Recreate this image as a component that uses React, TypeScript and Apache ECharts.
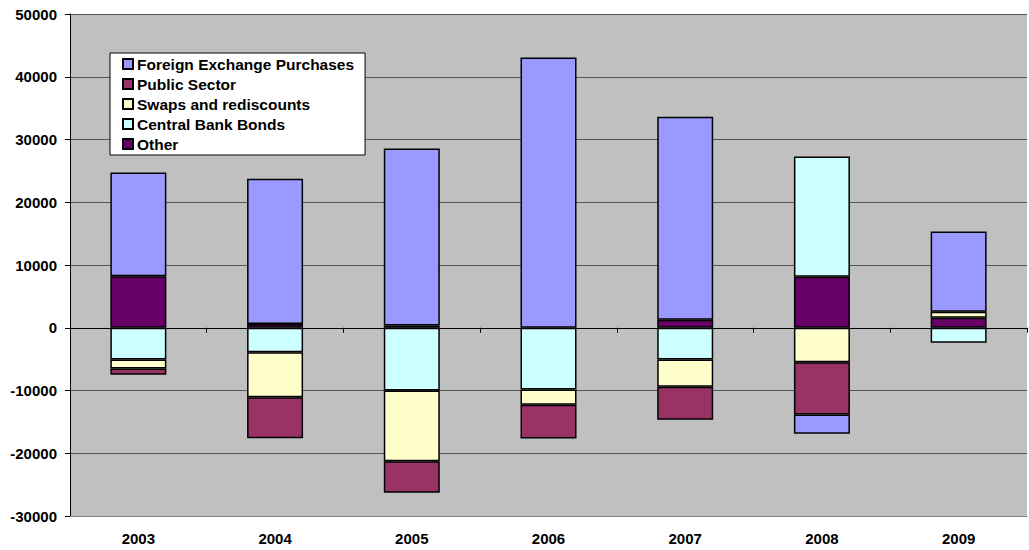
import React, { useEffect, useRef } from "react";
import * as echarts from "echarts";

const years = ["2003", "2004", "2005", "2006", "2007", "2008", "2009"];
const foreignExchange = [16550, 23150, 28200, 43080, 32360, -3070, 12800];
const publicSector = [-1000, -6530, -5040, -5370, -5260, -8340, null];
const swaps = [-1430, -7170, -11260, -2440, -4350, -5480, 960];
const centralBankBonds = [-5050, -3890, -10000, -9830, -5050, 19170, -2390];
const other = [8200, 600, 350, null, 1270, 8130, 1590];

const FONT = "'Liberation Sans', Arial, sans-serif";

export default function App() {
  const ref = useRef<HTMLDivElement>(null);
  useEffect(() => {
    if (!ref.current) return;
    const chart = echarts.init(ref.current, undefined, { renderer: "svg" });
    const mk = (name: string, data: (number | null)[], color: string) => ({
      name,
      type: "bar",
      stack: "total",
      data,
      barWidth: 56,
      xAxisIndex: 0,
      itemStyle: { color, borderColor: "#000", borderWidth: 1.5 },
    });
    chart.setOption({
      animation: false,
      backgroundColor: "#fff",
      textStyle: { fontFamily: FONT },
      grid: { left: 70, right: 2, top: 14, bottom: 34, show: true, backgroundColor: "#C0C0C0", borderWidth: 0 },
      legend: {
        data: ["Foreign Exchange Purchases", "Public Sector", "Swaps and rediscounts", "Central Bank Bonds", "Other"],
        orient: "vertical",
        left: 110,
        top: 53,
        backgroundColor: "#fff",
        borderColor: "#000",
        borderWidth: 1,
        padding: [3, 11, 3, 12],
        itemWidth: 10,
        itemHeight: 10,
        itemGap: 4,
        icon: "rect",
        textStyle: { fontFamily: FONT, fontWeight: "bold", fontSize: 15.5, lineHeight: 16, color: "#000", padding: [0, 0, 0, -1] },
      },
      xAxis: [
        {
          type: "category",
          data: years,
          position: "bottom",
          axisLine: { onZero: true, lineStyle: { color: "#000", width: 1 } },
          axisTick: { show: true, length: 5, lineStyle: { color: "#000" } },
          axisLabel: { show: false },
        },
        {
          type: "category",
          data: years,
          position: "bottom",
          axisLine: { onZero: false, lineStyle: { color: "#808080", width: 1 } },
          axisTick: { show: false },
          axisLabel: { fontFamily: FONT, fontWeight: "bold", fontSize: 15, color: "#000", margin: 15 },
        },
      ],
      yAxis: {
        type: "value",
        min: -30000,
        max: 50000,
        interval: 10000,
        axisLine: { show: true, lineStyle: { color: "#000" } },
        axisTick: { show: true, length: 5, lineStyle: { color: "#000" } },
        axisLabel: {
          fontFamily: FONT,
          fontWeight: "bold",
          fontSize: 15,
          color: "#000",
          margin: 13,
          formatter: (v: number) => String(v),
        },
        splitLine: { show: true, lineStyle: { color: "#555", width: 1 } },
      },
      series: [
        mk("Other", other, "#660066"),
        mk("Central Bank Bonds", centralBankBonds, "#CCFFFF"),
        mk("Swaps and rediscounts", swaps, "#FFFFCC"),
        mk("Public Sector", publicSector, "#993366"),
        mk("Foreign Exchange Purchases", foreignExchange, "#9999FF"),
      ],
    });
    return () => chart.dispose();
  }, []);
  return <div ref={ref} style={{ position: "absolute", left: 0, top: 0, width: 1029, height: 550 }} />;
}
